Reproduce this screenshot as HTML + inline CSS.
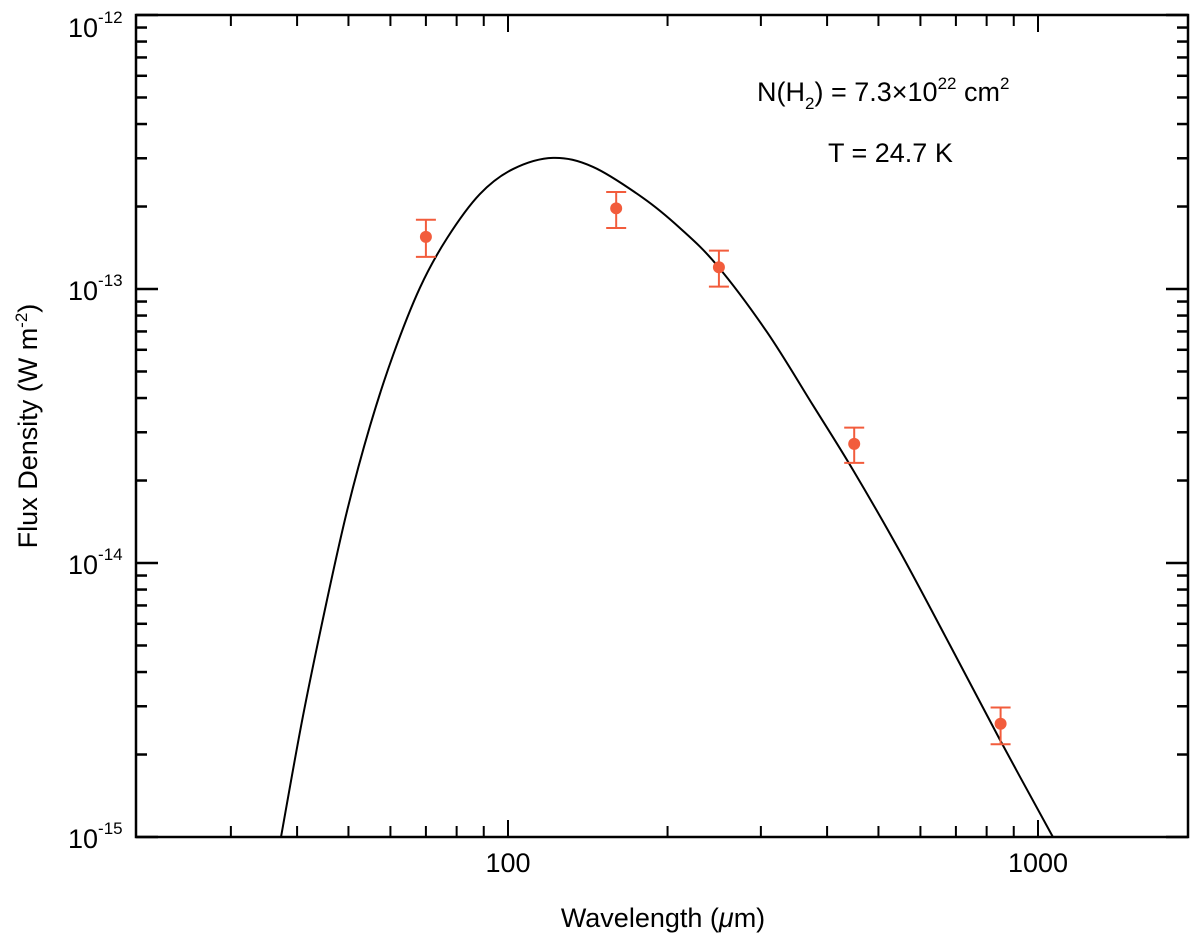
<!DOCTYPE html>
<html><head><meta charset="utf-8"><style>
html,body{margin:0;padding:0;background:#fff;}
svg{display:block;font-family:"Liberation Sans",sans-serif;}
</style></head><body>
<svg id="chart" width="1200" height="943" viewBox="0 0 1200 943">
<g id="ticks"></g>
<g id="labels"></g>
<path id="curve" fill="none" stroke="#000" stroke-width="2"/>
<g id="points"></g>
<rect x="136" y="15" width="1052" height="822" fill="none" stroke="#000" stroke-width="2.5"/>
<text x="663" y="927" text-anchor="middle" font-size="27">Wavelength (<tspan font-style="italic">μ</tspan>m)</text>
<text transform="translate(37,426) rotate(-90)" text-anchor="middle" font-size="27">Flux Density (W m<tspan dy="-10" font-size="17">-2</tspan><tspan dy="10">)</tspan></text>
<text x="757" y="101" font-size="27">N(H<tspan dy="8" font-size="17">2</tspan><tspan dy="-8">) = 7.3×10</tspan><tspan dy="-12" font-size="17">22</tspan><tspan dy="12"> cm</tspan><tspan dy="-12" font-size="17">2</tspan></text>
<text x="828" y="162" font-size="27">T = 24.7 K</text>
</svg>
<script>
const curveLambda=[37.3,41.0,45.5,49.7,54.9,60.7,68.2,76.7,88.5,102.2,121.6,144.7,179.8,211,248,308,376,448,549,682,848,1067];
const curveFlux=[1.0e-15,2.74e-15,7.26e-15,1.55e-14,3.16e-14,5.74e-14,1.01e-13,1.53e-13,2.22e-13,2.74e-13,3.01e-13,2.79e-13,2.15e-13,1.67e-13,1.22e-13,6.97e-14,3.77e-14,2.18e-14,1.10e-14,5.02e-15,2.26e-15,1.0e-15];
const pointLambda=[70,160,250,450,850];
const pointFlux=[1.55e-13,1.97e-13,1.20e-13,2.72e-14,2.59e-15];
const errHigh=[1.79e-13,2.26e-13,1.38e-13,3.12e-14,2.97e-15];
const errLow=[1.31e-13,1.67e-13,1.02e-13,2.32e-14,2.18e-15];
const yMajorTicks=[-12,-13,-14,-15];
const xMajorTicks=[100,1000];
const xTickLabels=["100","1000"];

const NS="http://www.w3.org/2000/svg";
const L=136,R=1188,T=15,B=837;
function xs(l){return 508+530*(Math.log10(l)-2);}
function ys(f){return T+274*(-12-Math.log10(f));}
function mk(tag,attrs,parent){const e=document.createElementNS(NS,tag);for(const k in attrs)e.setAttribute(k,attrs[k]);parent.appendChild(e);return e;}
const tg=document.getElementById('ticks'),lg=document.getElementById('labels');
for(let d=-15;d<-12;d++){for(let m=2;m<=9;m++){const y=ys(m*Math.pow(10,d));
 const a=mk('line',{x1:L,x2:L+11,y1:y,y2:y,stroke:'#000','stroke-width':2.5},tg);
 
 
 const b=mk('line',{x1:R-11,x2:R,y1:y,y2:y,stroke:'#000','stroke-width':2.5},tg);
 
 }}
yMajorTicks.forEach(p=>{const y=ys(Math.pow(10,p));
 const a=mk('line',{x1:L,x2:L+22,y1:y,y2:y,stroke:'#000','stroke-width':2.5},tg);
 
 
 const b=mk('line',{x1:R-22,x2:R,y1:y,y2:y,stroke:'#000','stroke-width':2.5},tg);
 
 
 const t=mk('text',{x:68,y:y+11,'font-size':27},lg);
 
 
 t.innerHTML='10<tspan dy="-14" font-size="17">'+p+'</tspan>';
 if(p===-12)t.setAttribute('y',y+22);});
[30,40,50,60,70,80,90,200,300,400,500,600,700,800,900].forEach(v=>{const x=xs(v);
 const a=mk('line',{x1:x,x2:x,y1:B,y2:B-11,stroke:'#000','stroke-width':2},tg);
 
 
 const b=mk('line',{x1:x,x2:x,y1:T,y2:T+11,stroke:'#000','stroke-width':2},tg);
 
 });
xMajorTicks.forEach((v,i)=>{const x=xs(v);
 const a=mk('line',{x1:x,x2:x,y1:B,y2:B-17,stroke:'#000','stroke-width':2},tg);
 
 
 const b=mk('line',{x1:x,x2:x,y1:T,y2:T+17,stroke:'#000','stroke-width':2},tg);
 
 
 const t=mk('text',{x:x,y:872,'font-size':27,'text-anchor':'middle'},lg);
 
 
 t.textContent=xTickLabels[i];});
const P=curveLambda.map((l,i)=>[xs(l),ys(curveFlux[i])]);
let d='M'+P[0][0]+','+P[0][1];
for(let i=0;i<P.length-1;i++){const p0=P[Math.max(0,i-1)],p1=P[i],p2=P[i+1],p3=P[Math.min(P.length-1,i+2)];
 d+=' C'+(p1[0]+(p2[0]-p0[0])/6)+','+(p1[1]+(p2[1]-p0[1])/6)+' '+(p2[0]-(p3[0]-p1[0])/6)+','+(p2[1]-(p3[1]-p1[1])/6)+' '+p2[0]+','+p2[1];}
document.getElementById('curve').setAttribute('d',d);
const pg=document.getElementById('points');const C='#f25c3c';
pointLambda.forEach((l,i)=>{const x=xs(l),y=ys(pointFlux[i]),yh=ys(errHigh[i]),yl=ys(errLow[i]);
 const g=mk('g',{},pg);
 
 
 mk('line',{x1:x,x2:x,y1:yh,y2:yl,stroke:C,'stroke-width':2},g);
 mk('line',{x1:x-10,x2:x+10,y1:yh,y2:yh,stroke:C,'stroke-width':2},g);
 mk('line',{x1:x-10,x2:x+10,y1:yl,y2:yl,stroke:C,'stroke-width':2},g);
 mk('circle',{cx:x,cy:y,r:6,fill:C},g);});
</script>
</body></html>
